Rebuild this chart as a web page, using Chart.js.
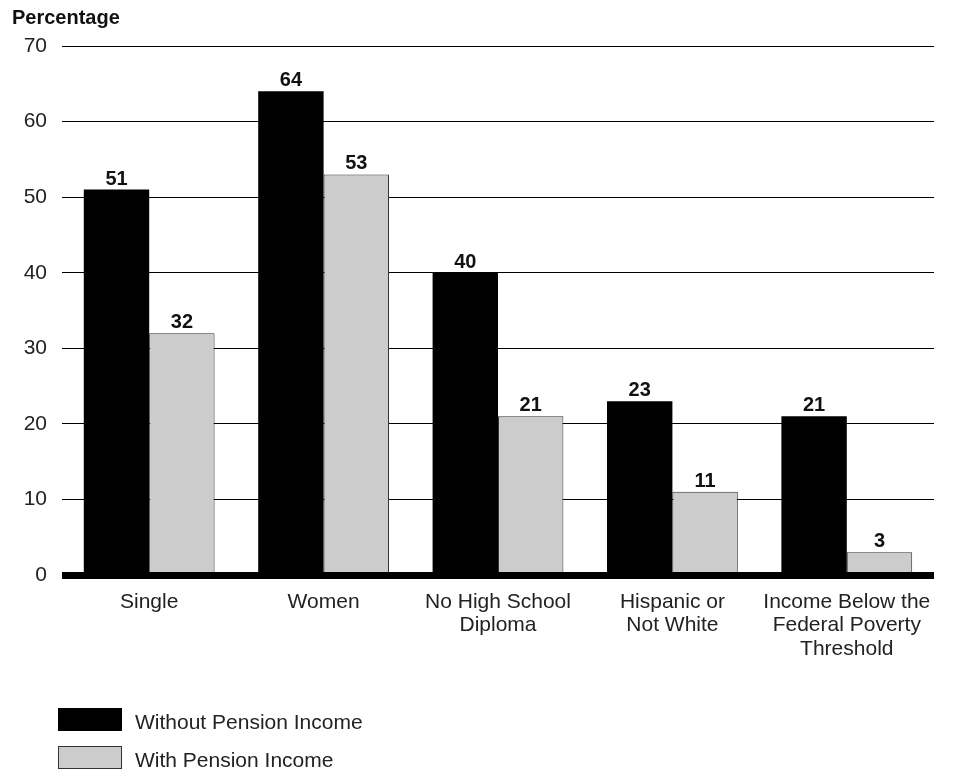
<!DOCTYPE html>
<html>
<head>
<meta charset="utf-8">
<script src="https://cdn.jsdelivr.net/npm/chart.js@4"></script>
<style>
  html, body { margin: 0; padding: 0; background: #fff; }
  #wrap { position: relative; width: 954px; height: 774px; }
</style>
</head>
<body>
<div id="wrap"><canvas id="bar-chart" width="954" height="774"></canvas></div>
<script>
var categories = ['Single', 'Women', ['No High School', 'Diploma'], ['Hispanic or', 'Not White'], ['Income Below the', 'Federal Poverty', 'Threshold']];
var withoutPension = [51, 64, 40, 23, 21];
var withPension = [32, 53, 21, 11, 3];
var yTicks = [0, 10, 20, 30, 40, 50, 60, 70];

var FONT = '"Liberation Sans", Arial, sans-serif';

// value labels, title, thick baseline and legend
var extras = {
    id: 'extras',
    afterDatasetsDraw: function (chart) {
        var ctx = chart.ctx;
        var area = chart.chartArea;
        var y0 = chart.scales.y.getPixelForValue(0);

        ctx.save();
        ctx.fillStyle = '#000';
        ctx.fillRect(area.left, y0 - 3, area.right - area.left, 7);

        ctx.font = 'bold 20px ' + FONT;
        ctx.fillStyle = '#111';
        ctx.textAlign = 'center';
        ctx.textBaseline = 'alphabetic';
        chart.data.datasets.forEach(function (ds, i) {
            chart.getDatasetMeta(i).data.forEach(function (bar, j) {
                ctx.fillText(ds.data[j], bar.x, bar.y - 5);
            });
        });

        ctx.textAlign = 'left';
        ctx.fillText('Percentage', 12, 24);

        // legend
        var rows = [720, 758];
        ctx.font = '21px ' + FONT;
        chart.data.datasets.forEach(function (ds, i) {
            var y = rows[i];
            ctx.fillStyle = ds.backgroundColor;
            ctx.fillRect(58, y - 12, 64, 23);
            if (i === 1) {
                ctx.strokeStyle = '#333';
                ctx.lineWidth = 1;
                ctx.strokeRect(58.5, y - 11.5, 63, 22);
            }
            ctx.fillStyle = '#222';
            ctx.fillText(ds.label, 135, y + 9);
        });
        ctx.restore();
    }
};

var chart = new Chart(document.getElementById('bar-chart'), {
    type: 'bar',
    data: {
        labels: categories,
        datasets: [{
            label: 'Without Pension Income',
            data: withoutPension,
            backgroundColor: '#000000',
            borderColor: '#000000',
            borderWidth: 0
        }, {
            label: 'With Pension Income',
            data: withPension,
            backgroundColor: '#cccccc',
            borderColor: '#333333',
            borderWidth: 1
        }]
    },
    options: {
        responsive: false,
        animation: false,
        layout: { padding: { top: 46, right: 20, left: 0, bottom: 0 } },
        categoryPercentage: 0.75,
        barPercentage: 1,
        plugins: {
            legend: { display: false },
            tooltip: { enabled: false }
        },
        scales: {
            x: {
                grid: { display: false },
                border: { display: false },
                ticks: {
                    color: '#222',
                    font: { family: FONT, size: 21, lineHeight: 1.1 },
                    padding: 8,
                    maxRotation: 0,
                    autoSkip: false
                },
                afterFit: function (scale) { scale.height = 199; }
            },
            y: {
                min: 0,
                max: 70,
                afterBuildTicks: function (scale) {
                    scale.ticks = yTicks.map(function (v) { return { value: v }; });
                },
                grid: { color: '#000', lineWidth: 1, drawTicks: false },
                border: { display: false },
                ticks: {
                    color: '#222',
                    font: { family: FONT, size: 21 },
                    padding: 15
                },
                afterFit: function (scale) { scale.width = 62; }
            }
        }
    },
    plugins: [extras]
});
</script>
</body>
</html>
